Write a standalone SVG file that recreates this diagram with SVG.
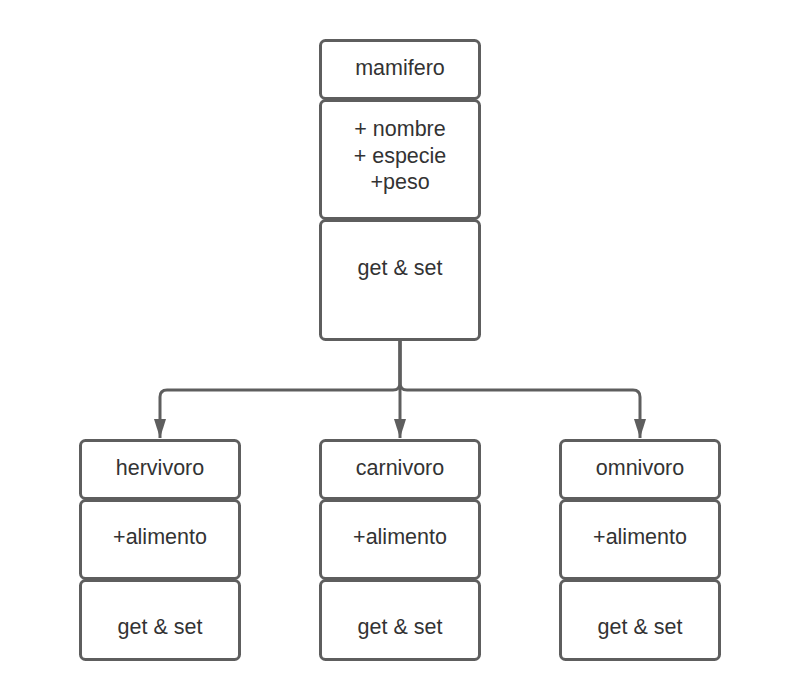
<svg xmlns="http://www.w3.org/2000/svg" width="800" height="700" viewBox="0 0 800 700">
<style>
.box{fill:#ffffff;stroke:#5e5e5e;stroke-width:3}
.t{font-family:"Liberation Sans",Arial,sans-serif;font-size:21.5px;fill:#333333;text-anchor:middle}
.c{fill:none;stroke:#5e5e5e;stroke-width:3}
</style>
<defs>
<marker id="arr" markerWidth="19" markerHeight="12" refX="19" refY="6" orient="auto" markerUnits="userSpaceOnUse" viewBox="0 0 19 12">
<path d="M0,0 L19,6 L0,12 Z" fill="#5e5e5e"/>
</marker>
</defs>
<rect width="800" height="700" fill="#ffffff"/>
<g id="connectors">
<path class="c" d="M400,341 V383 Q400,390 393,390 H167 Q160,390 160,397 V438" marker-end="url(#arr)"/>
<path class="c" d="M400,341 V438" marker-end="url(#arr)"/>
<path class="c" d="M400,341 V383 Q400,390 407,390 H633 Q640,390 640,397 V438" marker-end="url(#arr)"/>
</g>
<g id="mamifero">
<rect class="box" x="320.5" y="40.5" width="159" height="58" rx="5"/>
<rect class="box" x="320.5" y="100.5" width="159" height="118" rx="5"/>
<rect class="box" x="320.5" y="220.5" width="159" height="119" rx="5"/>
<text class="t" x="400" y="75">mamifero</text>
<text class="t" x="400" y="136">+ nombre</text>
<text class="t" x="400" y="162.5">+ especie</text>
<text class="t" x="400" y="189">+peso</text>
<text class="t" x="400" y="275">get &amp; set</text>
</g>
<g id="hervivoro">
<rect class="box" x="80.5" y="440.5" width="159" height="58" rx="5"/>
<rect class="box" x="80.5" y="500.5" width="159" height="78" rx="5"/>
<rect class="box" x="80.5" y="580.5" width="159" height="79" rx="5"/>
<text class="t" x="160" y="475">hervivoro</text>
<text class="t" x="160" y="543.5">+alimento</text>
<text class="t" x="160" y="634">get &amp; set</text>
</g>
<g id="carnivoro">
<rect class="box" x="320.5" y="440.5" width="159" height="58" rx="5"/>
<rect class="box" x="320.5" y="500.5" width="159" height="78" rx="5"/>
<rect class="box" x="320.5" y="580.5" width="159" height="79" rx="5"/>
<text class="t" x="400" y="475">carnivoro</text>
<text class="t" x="400" y="543.5">+alimento</text>
<text class="t" x="400" y="634">get &amp; set</text>
</g>
<g id="omnivoro">
<rect class="box" x="560.5" y="440.5" width="159" height="58" rx="5"/>
<rect class="box" x="560.5" y="500.5" width="159" height="78" rx="5"/>
<rect class="box" x="560.5" y="580.5" width="159" height="79" rx="5"/>
<text class="t" x="640" y="475">omnivoro</text>
<text class="t" x="640" y="543.5">+alimento</text>
<text class="t" x="640" y="634">get &amp; set</text>
</g>
</svg>
